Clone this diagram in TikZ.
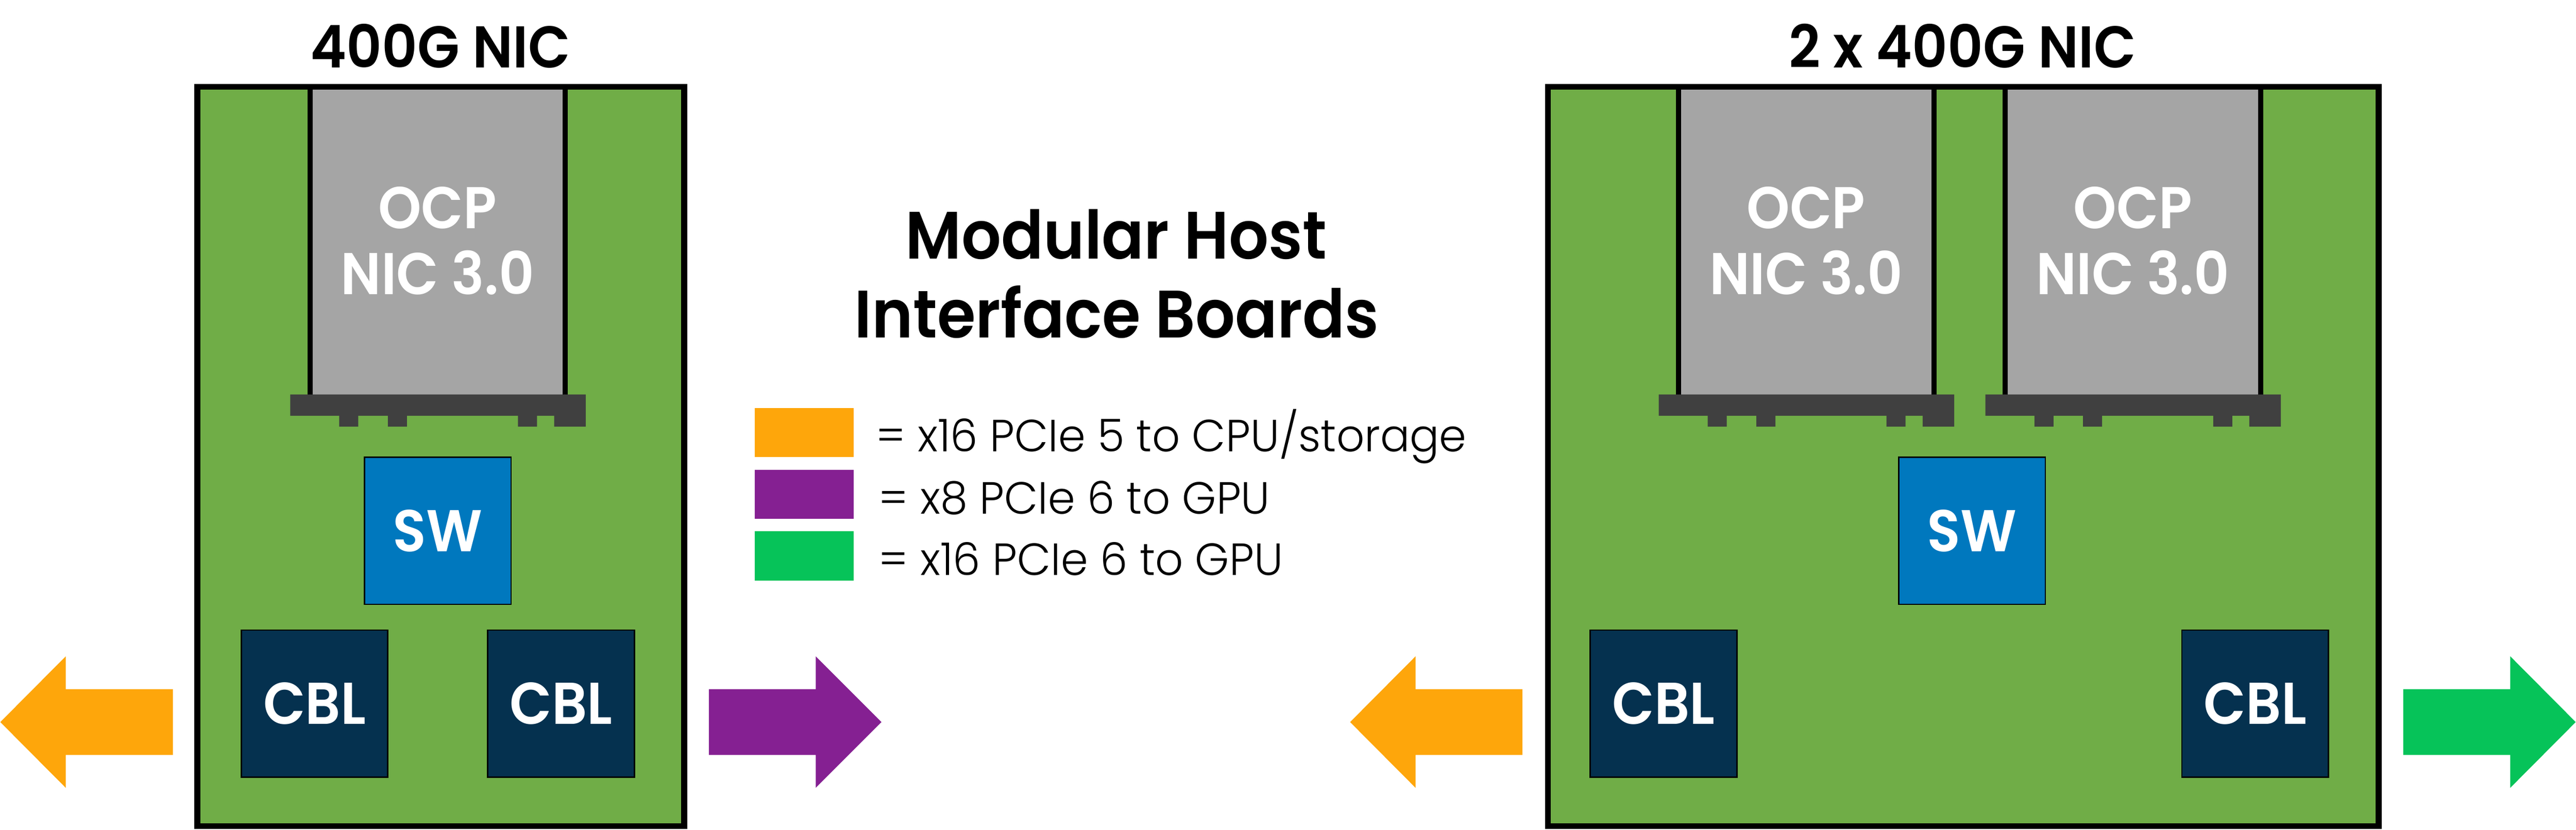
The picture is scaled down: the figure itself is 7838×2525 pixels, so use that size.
\documentclass[tikz,border=0pt]{standalone}
\usepackage{fontspec}
\setmainfont{Poppins}[BoldFont={Poppins SemiBold},BoldFeatures={FakeStretch=0.93}]
\newfontfamily\legendfont{Poppins Light}[FakeStretch=0.97]
\definecolor{boardgreen}{RGB}{112,173,71}
\definecolor{cardgray}{RGB}{165,165,165}
\definecolor{bargray}{RGB}{64,64,64}
\definecolor{swblue}{RGB}{0,120,190}
\definecolor{cblnavy}{RGB}{5,49,79}
\definecolor{arrorange}{RGB}{254,166,11}
\definecolor{arrpurple}{RGB}{133,32,146}
\definecolor{arrgreen}{RGB}{6,195,89}
\tikzset{
  boardfill/.style={rectangle,fill=boardgreen,inner sep=0pt,minimum width=#1,minimum height=22.46cm},
  boardline/.style={draw=black,line width=5pt},
  cardbox/.style={rectangle,fill=cardgray,inner sep=0pt,minimum width=7.77cm,minimum height=9.34cm,
    text=white,font=\fontsize{51}{57}\selectfont\bfseries,align=center},
  cardline/.style={draw=black,line width=4.5pt},
  chipbox/.style={rectangle,draw=black,line width=1.2pt,inner sep=0pt,minimum width=4.46cm,minimum height=4.47cm,
    text=white,font=\fontsize{51}{57}\selectfont\bfseries},
  swbox/.style={chipbox,fill=swblue},
  cblbox/.style={chipbox,fill=cblnavy},
  boardtitle/.style={anchor=base,inner sep=0pt,font=\fontsize{51}{57}\selectfont\bfseries},
  maintitle/.style={anchor=base,inner sep=0pt,font=\fontsize{58}{66}\selectfont\bfseries},
  swatch/.style={rectangle,fill=#1,inner sep=0pt,minimum width=3.02cm,minimum height=1.5cm},
  legendtext/.style={anchor=base west,inner sep=0pt,font=\fontsize{39}{45}\selectfont\legendfont},
  ocpnic/.pic={
    \node[cardbox] (-card) at (388.5,-467) {OCP\\NIC 3.0};
    \draw[cardline] (0,-934) -- (0,0);
    \draw[cardline] (777,-934) -- (777,0);
    \fill[bargray] (-60,0) -- (839,0) -- (839,98) -- (743,98) -- (743,65) -- (691,65) -- (691,98)
      -- (633,98) -- (633,65) -- (295,65) -- (295,98) -- (237,98) -- (237,65) -- (147,65)
      -- (147,98) -- (89,98) -- (89,65) -- (-60,65) -- cycle;
  }
}
\begin{document}
\begin{tikzpicture}[x=0.01cm,y=-0.01cm]
\useasboundingbox (0,0) rectangle (7838,2525);

% ---------- left board ----------
\node[boardfill=14.79cm] (boardL) at (1341,1389) {};
\pic (nicL) at (943,1200) {ocpnic};
\draw[boardline] (boardL.north west) rectangle (boardL.south east);
\node[boardtitle] (titleL) at (1340,206) {400G NIC};
\node[swbox] (swL) at (1332,1615) {SW};
\node[cblbox] (cblL1) at (957,2141) {CBL};
\node[cblbox] (cblL2) at (1707,2141) {CBL};

% ---------- right board ----------
\node[boardfill=25.25cm] (boardR) at (5973.5,1389) {};
\pic (nicR1) at (5107,1200) {ocpnic};
\pic (nicR2) at (6101,1200) {ocpnic};
\draw[boardline] (boardR.north west) rectangle (boardR.south east);
\node[boardtitle] (titleR) at (5971,206) {2 x 400G NIC};
\node[swbox] (swR) at (6000,1615) {SW};
\node[cblbox] (cblR1) at (5062,2141) {CBL};
\node[cblbox] (cblR2) at (6862,2141) {CBL};

% ---------- arrows ----------
\fill[arrorange] (1,2197) -- (200,1997) -- (200,2097) -- (526,2097) -- (526,2297) -- (200,2297) -- (200,2397) -- cycle;
\fill[arrpurple] (2682,2197) -- (2482,1997) -- (2482,2097) -- (2157,2097) -- (2157,2297) -- (2482,2297) -- (2482,2397) -- cycle;
\fill[arrorange] (4108,2197) -- (4307,1997) -- (4307,2097) -- (4632,2097) -- (4632,2297) -- (4307,2297) -- (4307,2397) -- cycle;
\fill[arrgreen] (7837,2197) -- (7638,1997) -- (7638,2097) -- (7312,2097) -- (7312,2297) -- (7638,2297) -- (7638,2397) -- cycle;

% ---------- middle title and legend ----------
\node[maintitle] (mt1) at (3396,787) {Modular Host};
\node[maintitle] (mt2) at (3398,1028) {Interface Boards};
\node[swatch=arrorange] (sw1) at (2447,1316) {};
\node[swatch=arrpurple] (sw2) at (2447,1504) {};
\node[swatch=arrgreen] (sw3) at (2447,1692) {};
\node[legendtext] (lg1) at (2665,1374) {= x16 PCIe 5 to CPU/storage};
\node[legendtext] (lg2) at (2673,1563) {= x8 PCIe 6 to GPU};
\node[legendtext] (lg3) at (2673,1750) {= x16 PCIe 6 to GPU};
\end{tikzpicture}
\end{document}
